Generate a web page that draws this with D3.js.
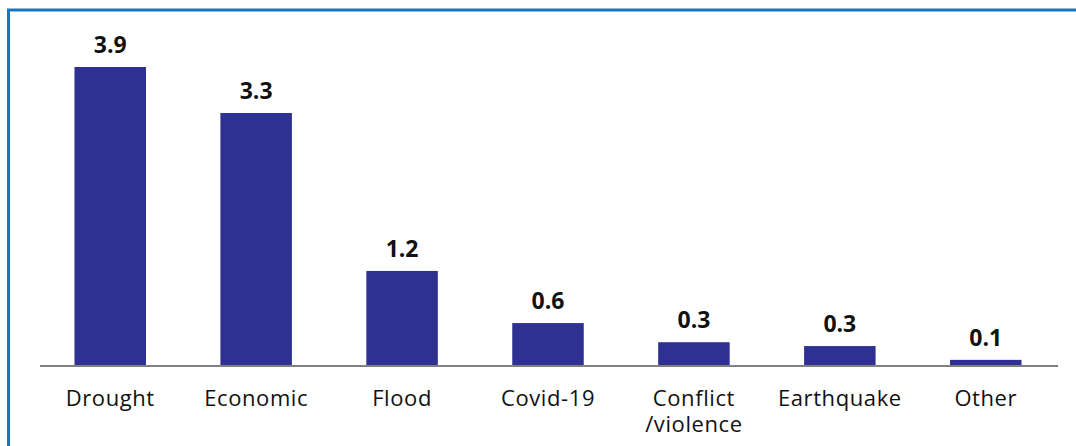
<!DOCTYPE html>
<html>
<head>
<meta charset="utf-8">
<script src="https://cdn.jsdelivr.net/npm/d3@7"></script>
<style>
  body { margin: 0; background: #fff; }
  svg { display: block; font-family: "Open Sans", Lato, sans-serif; }
</style>
</head>
<body>
<svg id="chart" width="1076" height="446"></svg>
<script>
// data
const categories = ["Drought", "Economic", "Flood", "Covid-19", "Conflict\n/violence", "Earthquake", "Other"];
const values = [3.9, 3.3, 1.24, 0.56, 0.31, 0.26, 0.08];

const width = 1076, height = 446;
const baseline = 366;

const svg = d3.select("#chart");

// frame: blue line on top and left only
svg.append("rect")
  .attr("x", 8.5).attr("y", 10)
  .attr("width", width + 20).attr("height", height + 20)
  .attr("fill", "none")
  .attr("stroke", "#1b75bc")
  .attr("stroke-width", 3);

const data = categories.map((c, i) => ({ cat: c, value: values[i] }));

const x = d3.scaleBand()
  .domain(categories)
  .range([38, 1058])
  .paddingInner(0.51)
  .paddingOuter(0.25);

const y = d3.scaleLinear()
  .domain([0, 3.9])
  .range([baseline, 67]);

svg.selectAll(".bar")
  .data(data)
  .join("rect")
    .attr("class", "bar")
    .attr("x", d => x(d.cat))
    .attr("y", d => y(d.value))
    .attr("width", x.bandwidth())
    .attr("height", d => baseline - y(d.value))
    .attr("fill", "#2e3192");

// value labels
svg.selectAll(".val")
  .data(data)
  .join("text")
    .attr("class", "val")
    .attr("x", d => x(d.cat) + x.bandwidth() / 2)
    .attr("y", d => y(d.value) - 14)
    .attr("text-anchor", "middle")
    .attr("font-size", 23)
    .attr("font-weight", 700)
    .attr("fill", "#111")
    .text(d => d3.format(".1f")(d.value));

// x axis
const xAxis = svg.append("g")
  .attr("transform", `translate(0,${baseline})`)
  .call(d3.axisBottom(x).tickSize(0).tickSizeOuter(0));

xAxis.select(".domain")
  .attr("stroke", "#808080")
  .attr("stroke-width", 2)
  .attr("d", "M40,0H1058");

xAxis.selectAll(".tick text")
  .attr("font-size", 22)
  .attr("letter-spacing", 0.6)
  .attr("font-family", "'Open Sans', Lato, sans-serif")
  .attr("fill", "#111")
  .attr("dy", null)
  .attr("y", 40)
  .text(null)
  .each(function(d) {
    const lines = d.split("\n");
    d3.select(this).selectAll("tspan")
      .data(lines)
      .join("tspan")
        .attr("x", 0)
        .attr("dy", (l, i) => i === 0 ? 0 : 26)
        .text(l => l);
  });
</script>
</body>
</html>
